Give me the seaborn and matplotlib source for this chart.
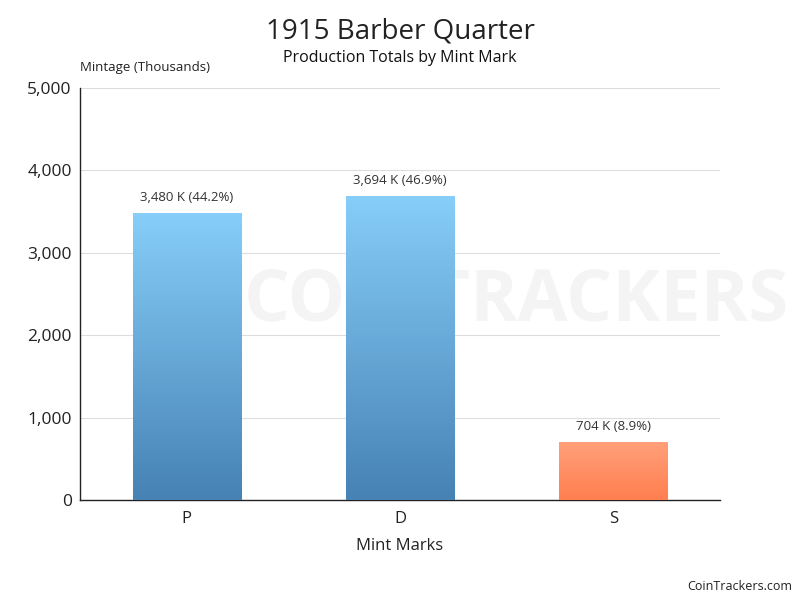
import numpy as np
import pandas as pd
import matplotlib
matplotlib.use("Agg")
import matplotlib.pyplot as plt
import seaborn as sns
from matplotlib.colors import LinearSegmentedColormap

mints = ["P", "D", "S"]
mintage = [3480, 3694, 704]
labels = ["3,480 K (44.2%)", "3,694 K (46.9%)", "704 K (8.9%)"]
yticks = [0, 1000, 2000, 3000, 4000, 5000]
ytick_labels = ["0", "1,000", "2,000", "3,000", "4,000", "5,000"]

sns.set_theme(style="white")
plt.rcParams['font.family'] = ['Open Sans', 'DejaVu Sans']

df = pd.DataFrame({"mint": mints, "mintage": mintage})

fig = plt.figure(figsize=(8, 6), dpi=100)
ax = fig.add_axes([0.1, 100/600, 0.8, 412/600])

# faint watermark behind everything
fig.text(0.646, 0.497, "COINTRACKERS", ha="center", va="center", fontsize=52,
         fontweight="bold", color="#f4f4f4", zorder=-5)

sns.barplot(data=df, x="mint", y="mintage", ax=ax, width=0.507, color="#5b9bd5",
            zorder=3)

ax.set_xlim(-0.5, 2.5)
ax.set_ylim(0, 5000)
ax.set_yticks(yticks)
ax.set_yticklabels(ytick_labels, fontsize=12.5, color="#222222")
ax.tick_params(axis="x", labelsize=12, colors="#222222", length=0, pad=8)
ax.tick_params(axis="y", length=0, pad=6)
ax.yaxis.grid(True, color="#dddddd", linewidth=0.8, zorder=0)
ax.set_axisbelow(True)
ax.patch.set_alpha(0)
for s in ["top", "right"]:
    ax.spines[s].set_visible(False)
for s in ["left", "bottom"]:
    ax.spines[s].set_color("#222222")
    ax.spines[s].set_linewidth(1)

ax.set_xlabel("Mint Marks", fontsize=12, color="#222222", labelpad=8)
ax.set_ylabel("")

blue = LinearSegmentedColormap.from_list("b", ["#4682b4", "#87cefa"])
orange = LinearSegmentedColormap.from_list("o", ["#ff7f50", "#ffa07a"])
grad = np.linspace(0, 1, 256).reshape(-1, 1)
for i, p in enumerate(ax.patches):
    x0, y0 = p.get_x(), p.get_y()
    w, h = p.get_width(), p.get_height()
    cmap = orange if mints[i] == "S" else blue
    im = ax.imshow(grad, cmap=cmap, origin="lower", aspect="auto",
                   extent=[x0, x0 + w, y0, y0 + h], zorder=3)
    im.set_clip_path(p)
    p.set_facecolor("none")
    p.set_edgecolor("none")
    ax.text(x0 + w / 2, h + 110, labels[i], ha="center", va="bottom",
            fontsize=9.5, color="#333333", zorder=4)
ax.set_xlim(-0.5, 2.5)
ax.set_ylim(0, 5000)

fig.text(0.5, 0.948, "1915 Barber Quarter", ha="center", va="center",
         fontsize=20, color="#222222")
fig.text(0.5, 0.903, "Production Totals by Mint Mark", ha="center", va="center",
         fontsize=11.5, color="#111111")
fig.text(0.1, 0.887, "Mintage (Thousands)", ha="left", va="center",
         fontsize=9.5, color="#222222")
fig.text(0.99, 0.023, "CoinTrackers.com", ha="right", va="center",
         fontsize=9, color="#222222")

fig.savefig("out.png", dpi=100)
